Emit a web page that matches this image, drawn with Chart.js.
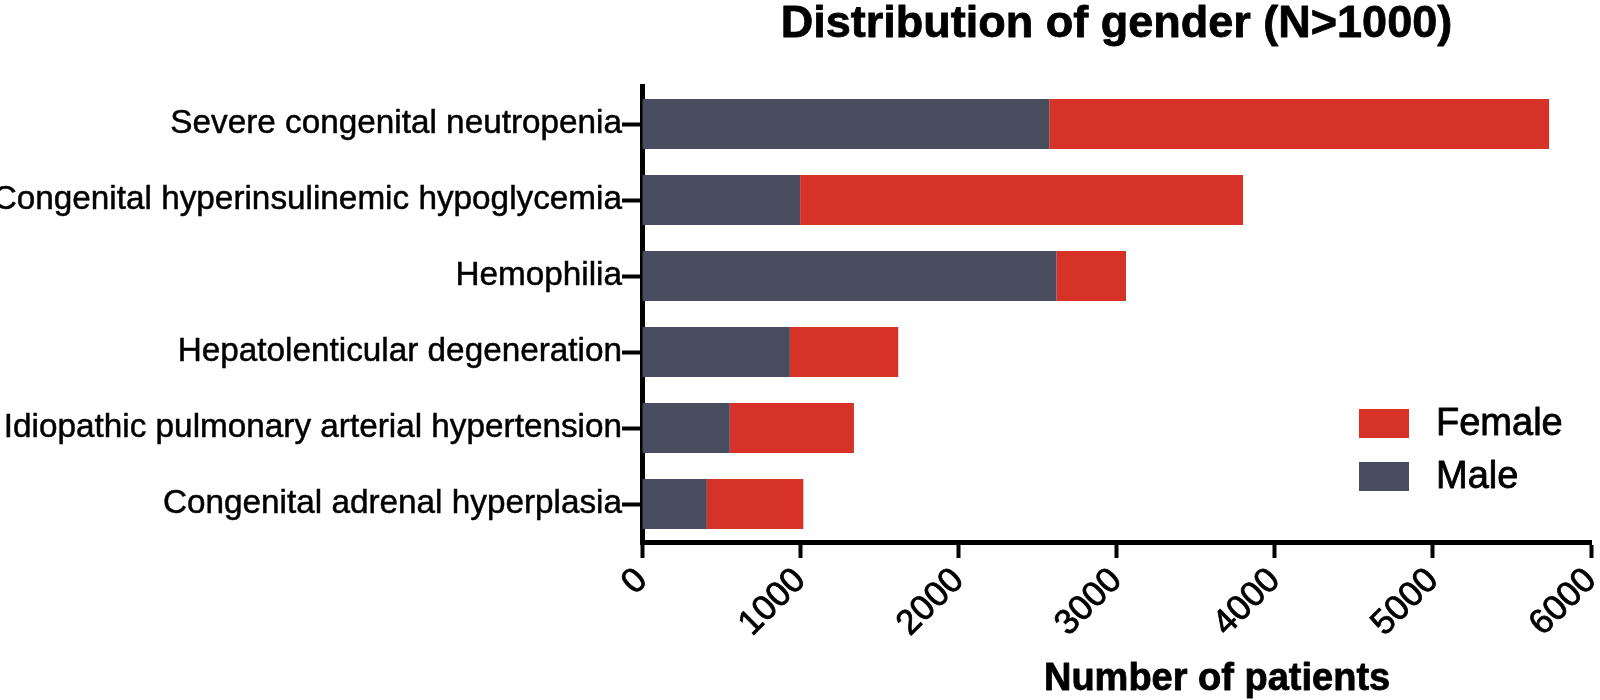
<!DOCTYPE html>
<html>
<head>
<meta charset="utf-8">
<script src="https://cdn.jsdelivr.net/npm/chart.js@4.4.0/dist/chart.umd.min.js"></script>
<style>
html,body{margin:0;padding:0;background:#fff;}
#wrap{width:1600px;height:700px;}
</style>
</head>
<body>
<div id="wrap"><canvas id="c" width="1600" height="700"></canvas></div>
<script>
// ---- data ----
const categories = [
  'Severe congenital neutropenia',
  'Congenital hyperinsulinemic hypoglycemia',
  'Hemophilia',
  'Hepatolenticular degeneration',
  'Idiopathic pulmonary arterial hypertension',
  'Congenital adrenal hyperplasia'
];
const maleValues   = [2575, 1000, 2620, 935, 555, 410];
const femaleValues = [3160, 2800, 440, 685, 785, 610];
const xTickValues  = [0, 1000, 2000, 3000, 4000, 5000, 6000];
const seriesNames  = ['Male', 'Female'];
const chartTitle   = 'Distribution of gender (N>1000)';
const xAxisTitle   = 'Number of patients';

// ---- styles ----
const FONT = '"Liberation Sans", Arial, Helvetica, sans-serif';
const MALE_COLOR = '#484C5E';
const FEMALE_COLOR = '#D63228';

const textPlugin = {
  id: 'textPlugin',
  afterDraw(chart) {
    const ctx = chart.ctx;
    const a = chart.chartArea;
    ctx.save();
    ctx.fillStyle = '#000';
    ctx.strokeStyle = '#000';
    ctx.textBaseline = 'alphabetic';
    ctx.lineJoin = 'round';
    // main title
    ctx.textAlign = 'center';
    ctx.font = 'bold 45px ' + FONT;
    ctx.lineWidth = 0.8;
    ctx.fillText(chartTitle, (a.left + a.right) / 2, 37);
    ctx.strokeText(chartTitle, (a.left + a.right) / 2, 37);
    // x axis title
    ctx.font = 'bold 38px ' + FONT;
    const tx = a.left + (a.right - a.left) * 0.606;
    ctx.fillText(xAxisTitle, tx, 690);
    ctx.strokeText(xAxisTitle, tx, 690);
    // legend (Female above Male)
    const ds = chart.data.datasets.slice().reverse();
    ctx.textAlign = 'left';
    ctx.font = '38px ' + FONT;
    ctx.lineWidth = 0.8;
    const boxX = 1359, boxW = 50, boxH = 29;
    const boxTops = [409, 462];
    const baselines = [435, 488];
    ds.forEach((d, i) => {
      ctx.fillStyle = d.backgroundColor;
      ctx.fillRect(boxX, boxTops[i], boxW, boxH);
      ctx.fillStyle = '#000';
      ctx.fillText(d.label, 1436, baselines[i]);
      ctx.strokeText(d.label, 1436, baselines[i]);
    });
    ctx.restore();
  }
};

new Chart(document.getElementById('c'), {
  type: 'bar',
  data: {
    labels: categories,
    datasets: [
      { label: seriesNames[0], data: maleValues, backgroundColor: MALE_COLOR, barPercentage: 0.66, categoryPercentage: 1.0 },
      { label: seriesNames[1], data: femaleValues, backgroundColor: FEMALE_COLOR, barPercentage: 0.66, categoryPercentage: 1.0 }
    ]
  },
  options: {
    indexAxis: 'y',
    responsive: false,
    devicePixelRatio: 1,
    animation: false,
    layout: { padding: { top: 86, right: 9, bottom: 0, left: 0 } },
    plugins: {
      legend: { display: false },
      title: { display: false },
      tooltip: { enabled: false }
    },
    scales: {
      x: {
        type: 'linear',
        stacked: true,
        min: xTickValues[0],
        max: xTickValues[xTickValues.length - 1],
        z: 1,
        afterBuildTicks(s) { s.ticks = xTickValues.map(v => ({ value: v })); },
        afterFit(s) { s.height = 158; s.paddingLeft = 0; s.paddingRight = 0; },
        grid: { display: true, drawOnChartArea: false, drawTicks: true, tickLength: 16, tickWidth: 4, tickColor: '#000' },
        border: { display: true, color: '#000', width: 5 },
        ticks: {
          color: '#000',
          font: { family: FONT, size: 35 },
          textStrokeColor: '#000',
          textStrokeWidth: 0.8,
          minRotation: 45, maxRotation: 45,
          autoSkip: false,
          padding: 2,
          callback: v => String(v)
        }
      },
      y: {
        type: 'category',
        stacked: true,
        z: 1,
        afterFit(s) { s.width = 642; },
        grid: { display: true, drawOnChartArea: false, offset: false, drawTicks: true, tickLength: 20, tickWidth: 4, tickColor: '#000' },
        border: { display: true, color: '#000', width: 5 },
        ticks: {
          color: '#000',
          font: { family: FONT, size: 33.3 },
          textStrokeColor: '#000',
          textStrokeWidth: 0.5,
          autoSkip: false,
          padding: 0
        }
      }
    }
  },
  plugins: [textPlugin]
});
</script>
</body>
</html>
